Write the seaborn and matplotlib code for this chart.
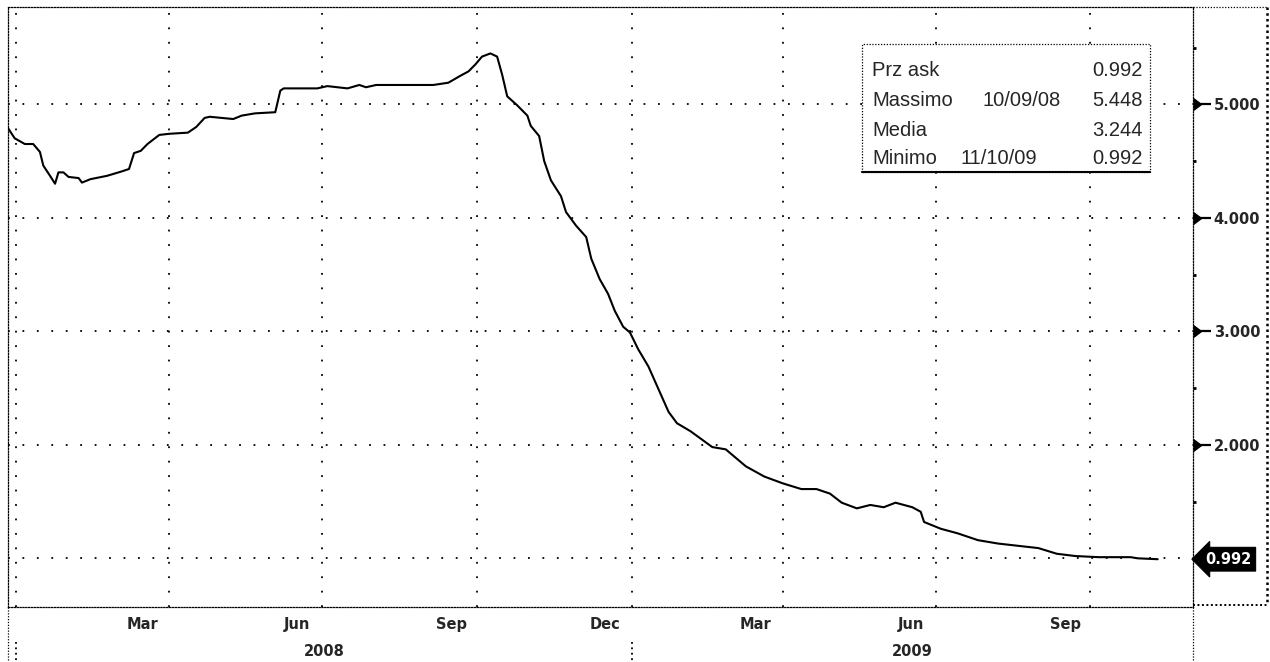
import numpy as np
import pandas as pd
import matplotlib
matplotlib.use("Agg")
import matplotlib.pyplot as plt
import matplotlib.dates as mdates
import matplotlib.transforms as mtransforms
from matplotlib.patches import Rectangle
import seaborn as sns

# ---------------- data ----------------
dates = [
    "2007-12-27", "2007-12-31", "2008-01-06", "2008-01-11", "2008-01-15", "2008-01-17",
    "2008-01-21", "2008-01-24", "2008-01-26", "2008-01-29", "2008-02-01", "2008-02-07",
    "2008-02-09", "2008-02-14", "2008-02-24", "2008-03-04", "2008-03-08", "2008-03-11",
    "2008-03-15", "2008-03-19", "2008-03-26", "2008-04-01", "2008-04-12", "2008-04-17",
    "2008-04-22", "2008-04-25", "2008-05-02", "2008-05-09", "2008-05-14", "2008-05-22",
    "2008-06-03", "2008-06-06", "2008-06-08", "2008-06-28", "2008-07-04", "2008-07-16",
    "2008-07-23", "2008-07-27", "2008-08-02", "2008-08-21", "2008-09-05", "2008-09-14",
    "2008-09-21", "2008-09-26", "2008-09-30", "2008-10-04", "2008-10-09", "2008-10-13",
    "2008-10-16", "2008-10-19", "2008-10-25", "2008-10-31", "2008-11-02", "2008-11-07",
    "2008-11-10", "2008-11-14", "2008-11-20", "2008-11-23", "2008-11-29", "2008-12-05",
    "2008-12-08", "2008-12-13", "2008-12-18", "2008-12-22", "2008-12-27", "2008-12-31",
    "2009-01-05", "2009-01-11", "2009-01-17", "2009-01-23", "2009-01-28", "2009-02-05",
    "2009-02-18", "2009-02-26", "2009-03-10", "2009-03-21", "2009-04-01", "2009-04-12",
    "2009-04-21", "2009-04-29", "2009-05-06", "2009-05-15", "2009-05-23", "2009-05-31",
    "2009-06-07", "2009-06-17", "2009-06-22", "2009-06-24", "2009-07-04", "2009-07-14",
    "2009-07-26", "2009-08-07", "2009-08-19", "2009-08-31", "2009-09-11", "2009-09-22",
    "2009-10-06", "2009-10-25", "2009-10-29", "2009-11-10",
]
values = [
    4.79, 4.70, 4.65, 4.65, 4.58, 4.46,
    4.37, 4.30, 4.40, 4.40, 4.36, 4.35,
    4.31, 4.34, 4.37, 4.41, 4.43, 4.57,
    4.59, 4.65, 4.73, 4.74, 4.75, 4.80,
    4.88, 4.89, 4.88, 4.87, 4.90, 4.92,
    4.93, 5.12, 5.14, 5.14, 5.16, 5.14,
    5.17, 5.15, 5.17, 5.17, 5.17, 5.19,
    5.25, 5.29, 5.35, 5.42, 5.448, 5.42,
    5.26, 5.07, 4.99, 4.90, 4.81, 4.72,
    4.50, 4.33, 4.19, 4.05, 3.93, 3.83,
    3.64, 3.46, 3.33, 3.18, 3.04, 2.99,
    2.84, 2.69, 2.49, 2.29, 2.19, 2.12,
    1.98, 1.96, 1.81, 1.72, 1.66, 1.61,
    1.61, 1.57, 1.49, 1.44, 1.47, 1.45,
    1.49, 1.45, 1.41, 1.32, 1.26, 1.22,
    1.16, 1.13, 1.11, 1.09, 1.04, 1.02,
    1.01, 1.01, 1.00, 0.992,
]

y_ticks = [1, 2, 3, 4, 5]
y_tick_labels = ["", "2.000", "3.000", "4.000", "5.000"]
month_labels = ["Mar", "Jun", "Sep", "Dec", "Mar", "Jun", "Sep"]
month_label_dates = ["2008-03-16", "2008-06-16", "2008-09-16", "2008-12-16",
                     "2009-03-16", "2009-06-16", "2009-09-16"]
year_labels = ["2008", "2009"]
year_starts = ["2008-01-01", "2009-01-01"]
x_range = ["2007-12-27", "2009-12-01"]
y_range = [0.571, 5.857]

stat_names = ["Prz ask", "Massimo", "Media", "Minimo"]
stat_dates = ["", "10/09/08", "", "11/10/09"]
stat_values = ["0.992", "5.448", "3.244", "0.992"]
last_value = "0.992"

df = pd.DataFrame({"date": pd.to_datetime(dates), "value": values})

# ---------------- figure ----------------
sns.set_style("white")
plt.rcParams["font.family"] = ["DejaVu Sans"]

W, H = 1270, 662
fig = plt.figure(figsize=(W / 100, H / 100), dpi=100)
ax = fig.add_axes([8 / W, 1 - 607 / H, 1185 / W, 600 / H])

sns.lineplot(data=df, x="date", y="value", ax=ax, color="black", linewidth=1.5)

x0, x1 = pd.to_datetime(x_range)
ax.set_xlim(x0, x1)
ax.set_ylim(*y_range)
ax.set_xlabel("")
ax.set_ylabel("")

grid_ls = (0, (1, 7))
dense = (0, (1, 1.3))

def px_x(p):
    return (p - 8) / 1185

def px_y(p):
    return (607 - p) / 600

# x axis
ax.xaxis.set_major_locator(mdates.MonthLocator(bymonth=[1, 4, 7, 10]))
ax.xaxis.set_minor_locator(mdates.MonthLocator())
ax.xaxis.set_major_formatter(plt.NullFormatter())
ax.tick_params(axis="x", which="major", direction="inout", length=6, width=1.2, color="black")
ax.tick_params(axis="x", which="minor", direction="inout", length=4, width=1.0, color="black")

# y axis on the right
ax.yaxis.tick_right()
ax.set_yticks(y_ticks)
ax.set_yticklabels(y_tick_labels)
ax.yaxis.set_minor_locator(plt.MultipleLocator(0.5))
ax.tick_params(axis="y", which="major", direction="out", length=13, width=1.6,
               color="black", pad=2, labelsize=10.5)
ax.tick_params(axis="y", which="minor", direction="out", length=2, width=2, color="black")
for lab in ax.get_yticklabels():
    lab.set_fontweight("bold")

ax.grid(True, which="major", axis="both", color="black", linestyle=grid_ls, linewidth=1.3)

for s in ["top", "left", "bottom", "right"]:
    ax.spines[s].set_linestyle(dense)
    ax.spines[s].set_linewidth(0.9)
    ax.spines[s].set_color("black")

# triangles at labelled y ticks
tr = mtransforms.blended_transform_factory(ax.transAxes, ax.transData)
lab_ticks = [t for t, l in zip(y_ticks, y_tick_labels) if l]
ax.plot([1.0] * len(lab_ticks), lab_ticks, ls="none", marker=9, ms=8,
        color="black", transform=tr, clip_on=False)

# month and year labels
trx = mtransforms.blended_transform_factory(ax.transData, ax.transAxes)
for d, lab in zip(pd.to_datetime(month_label_dates), month_labels):
    ax.text(d, -0.029, lab, transform=trx, ha="center", va="center",
            fontsize=10.5, fontweight="bold")
ys = pd.to_datetime(year_starts)
bounds = list(ys) + [x1]
for i, lab in enumerate(year_labels):
    mid = bounds[i] + (bounds[i + 1] - bounds[i]) / 2
    ax.text(mid, -0.075, lab, transform=trx, ha="center", va="center",
            fontsize=10.5, fontweight="bold")
for d in ys:
    ax.plot([d, d], [-0.058, -0.095], transform=trx, color="black",
            ls=(0, (1, 2)), lw=1.3, clip_on=False)

# extensions below the axes
for xa in [0.0, 1.0]:
    ax.plot([xa, xa], [0, -0.095], transform=ax.transAxes, color="black",
            ls=dense, lw=0.9, clip_on=False)

# right label box
xr = px_x(1267)
yb = px_y(605)
ax.plot([1.0, xr], [1.0, 1.0], transform=ax.transAxes, color="black", ls=dense, lw=0.9, clip_on=False)
ax.plot([xr, xr], [1.0, yb], transform=ax.transAxes, color="black", ls=dense, lw=1.8, clip_on=False)
ax.plot([1.0, xr], [yb, yb], transform=ax.transAxes, color="black", ls=dense, lw=1.4, clip_on=False)

# last value tag
ax.text(px_x(1205), float(last_value), last_value, transform=tr, ha="left", va="center",
        color="white", fontsize=10.5, fontweight="bold", clip_on=False,
        bbox=dict(boxstyle="larrow,pad=0.3", fc="black", ec="black", lw=0.8))

# statistics box
bx0, bx1 = px_x(862), px_x(1150)
by0, by1 = px_y(172), px_y(44)
ax.add_patch(Rectangle((bx0, by0), bx1 - bx0, by1 - by0, transform=ax.transAxes,
                       fc="white", ec="black", ls=dense, lw=0.9, zorder=5))
ax.plot([bx0, bx1], [by0, by0], transform=ax.transAxes, color="black", lw=1.5, zorder=6)
row_y = [px_y(p) for p in (70, 100, 130, 158)]
date_x = {"10/09/08": px_x(982), "11/10/09": px_x(961)}
fs = 14.5
for name, dt, val, yy in zip(stat_names, stat_dates, stat_values, row_y):
    ax.text(px_x(872), yy, name, transform=ax.transAxes, ha="left", va="center",
            fontsize=fs, family="Liberation Sans", zorder=7)
    if dt:
        ax.text(date_x[dt], yy, dt, transform=ax.transAxes, ha="left", va="center",
                fontsize=fs, family="Liberation Sans", zorder=7)
    ax.text(px_x(1143), yy, val, transform=ax.transAxes, ha="right", va="center",
            fontsize=fs, family="Liberation Sans", zorder=7)

fig.savefig("out.png", dpi=100)
